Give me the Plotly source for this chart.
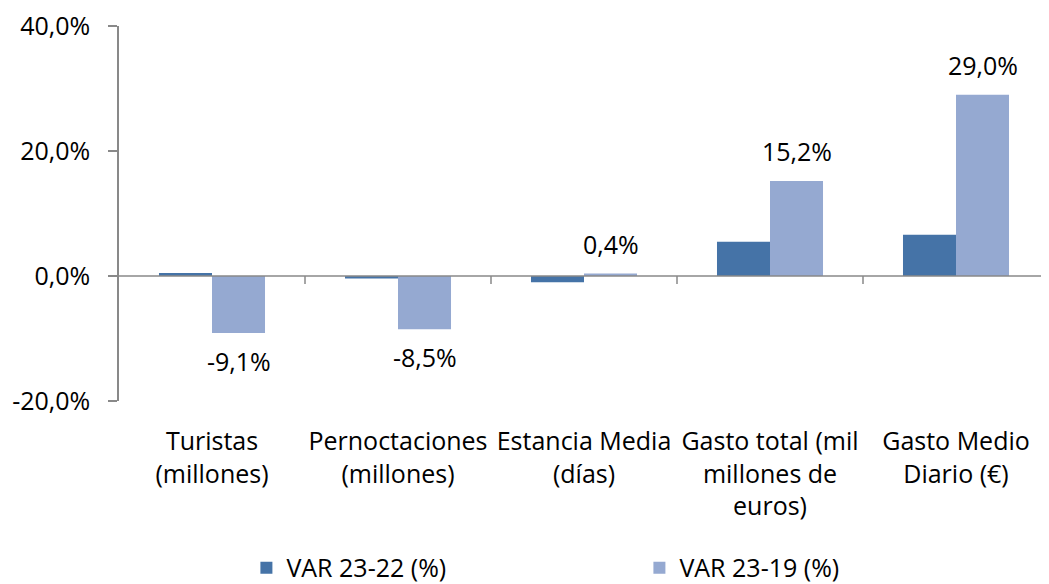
import plotly.graph_objects as go

categories = ["Turistas<br>(millones)", "Pernoctaciones<br>(millones)", "Estancia Media<br>(días)",
              "Gasto total (mil<br>millones de<br>euros)", "Gasto Medio<br>Diario (€)"]
var_23_22 = [0.5, -0.4, -1.0, 5.5, 6.6]
var_23_19 = [-9.1, -8.5, 0.4, 15.2, 29.0]
series_names = ["VAR 23-22 (%)", "VAR 23-19 (%)"]
y_ticks = [-20, 0, 20, 40]


def pct(v):
    return f"{v:.1f}%".replace(".", ",")


DARK = "#4573A7"
LIGHT = "#95A9D1"
AXIS = "#898989"
FONT = "Open Sans"
FS = 25
BARGAP = 0.43

x_idx = list(range(len(categories)))

fig = go.Figure()
fig.add_trace(go.Bar(x=x_idx, y=var_23_22, name=series_names[0], marker_color=DARK,
                     marker_line_width=0))
fig.add_trace(go.Bar(x=x_idx, y=var_23_19, name=series_names[1], marker_color=LIGHT,
                     marker_line_width=0))

off = (1 - BARGAP) / 4
for i, v in enumerate(var_23_19):
    fig.add_annotation(x=i + off, y=v, xref="x", yref="y",
                       text=pct(v), showarrow=False,
                       yshift=30 if v >= 0 else -28, yanchor="middle",
                       font=dict(family=FONT, size=FS, color="#000000"))

# horizontal category axis at zero with boundary ticks
fig.add_shape(type="line", xref="x", yref="y", x0=-0.5, x1=len(categories) - 0.5, y0=0, y1=0,
              line=dict(color=AXIS, width=1.5))
for k in range(len(categories)):
    fig.add_shape(type="line", xref="x", yref="y", x0=k + 0.5, x1=k + 0.5,
                  ysizemode="pixel", yanchor=0, y0=0, y1=-8,
                  line=dict(color=AXIS, width=1.5))

fig.update_layout(
    width=1041, height=576,
    margin=dict(l=111, r=0, t=18, b=183, autoexpand=False),
    plot_bgcolor="white", paper_bgcolor="white",
    barmode="group", bargap=BARGAP, bargroupgap=0,
    font=dict(family=FONT, size=FS, color="#000000"),
    showlegend=True,
    legend=dict(orientation="h", x=0.137, xanchor="left", y=-0.445, yanchor="middle",
                entrywidth=348, entrywidthmode="pixels",
                font=dict(family=FONT, size=FS, color="#000000")),
    xaxis=dict(tickmode="array", tickvals=x_idx, ticktext=categories, automargin=False,
               range=[-0.5, len(categories) - 0.5], showline=False, showgrid=False,
               zeroline=False, ticks="", ticklabelstandoff=23),
    yaxis=dict(range=[-20, 40], tickmode="array", tickvals=y_ticks,
               ticktext=[pct(t) for t in y_ticks], automargin=False,
               ticklabeloverflow="allow",
               showline=True, linecolor=AXIS, linewidth=1.5, ticks="outside", ticklen=9,
               tickcolor=AXIS, tickwidth=1.5, showgrid=False, zeroline=False,
               ticklabelstandoff=13),
)

fig.write_html("out.html")
